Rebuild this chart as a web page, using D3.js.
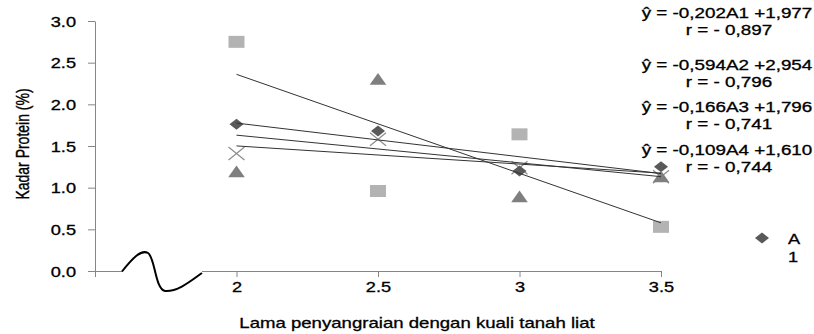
<!DOCTYPE html>
<html>
<head>
<meta charset="utf-8">
<script src="https://cdn.jsdelivr.net/npm/d3@7"></script>
<style>
	body { margin: 0; background: #fff; }
	svg { display: block; }
	text { font-family: "Liberation Sans", Arial, sans-serif; fill: #000; stroke: #000; stroke-width: 0.3px; }
</style>
</head>
<body>
<div id="chart"></div>
<script>

// data
const xValues = [ 2, 2.5, 3, 3.5 ];
const seriesNames = [ "A1", "A2", "A3", "A4" ];
const a1Values = [ 1.76, 1.68, 1.20, 1.25 ];
const a2Values = [ 2.75, 0.96, 1.64, 0.53 ];
const a3Values = [ 1.19, 2.30, 0.89, 1.13 ];
const a4Values = [ 1.41, 1.58, 1.24, 1.13 ];

// trend lines (x = index 1..4), from the labels
const slopes = [ -0.202, -0.594, -0.166, -0.109 ];
const intercepts = [ 1.977, 2.954, 1.796, 1.610 ];
const equationLabels = [ "ŷ = -0,202A1 +1,977", "ŷ = -0,594A2 +2,954", "ŷ = -0,166A3 +1,796", "ŷ = -0,109A4 +1,610" ];
const rLabels = [ "r = - 0,897", "r = - 0,796", "r = - 0,741", "r = - 0,744" ];

const yTicks = [ 0, 0.5, 1, 1.5, 2, 2.5, 3 ];
const xTicks = [ 1.5, 2, 2.5, 3, 3.5 ];
const xTickLabels = [ "", "2", "2.5", "3", "3.5" ];

///////////////////////////////////////////////////////////////////////

const width = 814, height = 334;
const SX = 1.3;		// the picture is stretched sideways

const svg = d3.select( "#chart" )
	.append( "svg" )
	.attr( "width", width )
	.attr( "height", height );

const x = d3.scaleLinear().domain( [ 1.5, 3.5 ] ).range( [ 95, 661 ] );
const y = d3.scaleLinear().domain( [ 0, 3 ] ).range( [ 271, 21 ] );

function stretched( g, tx, ty, str, size, anchor )	{
	return g.append( "text" )
		.attr( "transform", "translate(" + tx + "," + ty + ") scale(" + SX + ",1)" )
		.attr( "text-anchor", anchor )
		.style( "font-size", size + "px" )
		.text( str );
}

// axes
const axisColor = "#868686";

const gy = svg.append( "g" )
	.attr( "transform", "translate(" + x.range()[ 0 ] + ",0)" )
	.call( d3.axisLeft( y ).tickValues( yTicks ).tickSize( 7 ).tickSizeOuter( 0 ).tickFormat( d3.format( ".1f" ) ) );
gy.selectAll( "path, line" ).attr( "stroke", axisColor );
gy.selectAll( "text" )
	.attr( "x", null ).attr( "dy", null )
	.attr( "transform", "translate(-19,5) scale(" + SX + ",1)" )
	.attr( "text-anchor", "end" )
	.style( "font-size", "14px" )
	.attr( "font-family", null );

const gx = svg.append( "g" )
	.attr( "transform", "translate(0," + y( 0 ) + ")" )
	.call( d3.axisBottom( x ).tickValues( xTicks ).tickSize( 6 ).tickSizeOuter( 0 )
		.tickFormat( ( d, i ) => xTickLabels[ i ] ) );
gx.selectAll( "path, line" ).attr( "stroke", axisColor );
gx.selectAll( "text" )
	.attr( "y", null ).attr( "dy", null )
	.attr( "transform", "translate(0,21) scale(" + SX + ",1)" )
	.style( "font-size", "14px" )
	.attr( "font-family", null );
svg.selectAll( ".domain" ).attr( "stroke-width", 1 );

// axis break
svg.append( "line" )
	.attr( "x1", 123 ).attr( "x2", 202 )
	.attr( "y1", y( 0 ) + 0.5 ).attr( "y2", y( 0 ) + 0.5 )
	.attr( "stroke", "#fff" ).attr( "stroke-width", 3 );
svg.append( "path" )
	.attr( "d", "M122,271.5 C132,259 141,249 148,253 C155,257 155,289 165,291 C178,292 192,280 202,273" )
	.attr( "fill", "none" )
	.attr( "stroke", "#000" )
	.attr( "stroke-width", 2 );

// markers
function diamondPath( cx, cy ) {
	return "M" + ( cx - 7 ) + "," + cy + "L" + cx + "," + ( cy - 5.5 ) + "L" + ( cx + 7 ) + "," + cy + "L" + cx + "," + ( cy + 5.5 ) + "Z";
}
function squarePath( cx, cy ) {
	return "M" + ( cx - 8 ) + "," + ( cy - 6 ) + "h16v12h-16Z";
}
function trianglePath( cx, cy ) {
	return "M" + ( cx - 8.3 ) + "," + ( cy + 5.5 ) + "L" + cx + "," + ( cy - 6.3 ) + "L" + ( cx + 8.3 ) + "," + ( cy + 5.5 ) + "Z";
}
function crossPath( cx, cy ) {
	return "M" + ( cx - 8 ) + "," + ( cy - 6.5 ) + "L" + ( cx + 8 ) + "," + ( cy + 6.5 ) +
		"M" + ( cx - 8 ) + "," + ( cy + 6.5 ) + "L" + ( cx + 8 ) + "," + ( cy - 6.5 );
}

// drawn so that the crosses sit underneath
const series = [
	{ values: a4Values, shape: crossPath, fill: "none", stroke: "#8c8c8c" },
	{ values: a1Values, shape: diamondPath, fill: "#595959", stroke: "none" },
	{ values: a2Values, shape: squarePath, fill: "#b3b3b3", stroke: "none" },
	{ values: a3Values, shape: trianglePath, fill: "#7f7f7f", stroke: "none" }
];

series.forEach( function( s ) {
	svg.append( "g" ).selectAll( "path" )
		.data( s.values )
		.join( "path" )
			.attr( "d", ( d, i ) => s.shape( x( xValues[ i ] ), y( d ) ) )
			.attr( "fill", s.fill )
			.attr( "stroke", s.stroke )
			.attr( "stroke-width", 1.2 );
} );

// trend lines
const trend = d3.line()
	.x( d => x( d[ 0 ] ) )
	.y( d => y( d[ 1 ] ) );

slopes.forEach( function( m, k ) {
	const pts = [ 0, xValues.length - 1 ].map( i => [ xValues[ i ], intercepts[ k ] + m * ( i + 1 ) ] );
	svg.append( "path" )
		.datum( pts )
		.attr( "d", trend )
		.attr( "fill", "none" )
		.attr( "stroke", "#333" )
		.attr( "stroke-width", 1 );
} );

// equations
const eqBase = [ 18, 70, 112, 155 ];
const rBase = [ 35, 87, 129, 172 ];
equationLabels.forEach( function( t, k ) {
	stretched( svg, 727, eqBase[ k ], t, 14.5, "middle" );
	stretched( svg, 729, rBase[ k ], rLabels[ k ], 14.5, "middle" );
} );

// legend (only the first entry is visible)
svg.append( "path" )
	.attr( "d", diamondPath( 762, 238 ) )
	.attr( "fill", "#595959" );
stretched( svg, 794, 244, seriesNames[ 0 ][ 0 ], 14, "middle" );
stretched( svg, 793, 262, seriesNames[ 0 ][ 1 ], 14, "middle" );

// axis titles
stretched( svg, 417, 328, "Lama penyangraian dengan kuali tanah liat", 14.3, "middle" );
svg.append( "text" )
	.attr( "transform", "translate(29,144) scale(" + SX + ",1) rotate(-90)" )
	.attr( "text-anchor", "middle" )
	.style( "font-size", "14px" )
	.text( "Kadar Protein (%)" );

</script>
</body>
</html>
